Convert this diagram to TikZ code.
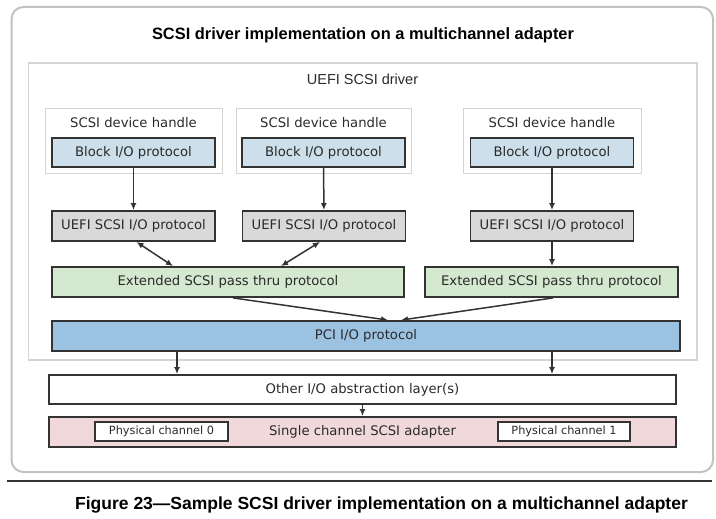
\documentclass[tikz,border=0pt]{standalone}
\usepackage{fontspec}
\setmainfont{DejaVu Sans}
\newfontfamily\arialfont{Liberation Sans}
\usetikzlibrary{positioning,arrows.meta}

\definecolor{blockblue}{HTML}{CCDFEA}
\definecolor{scsigray}{HTML}{D9D9D9}
\definecolor{passgreen}{HTML}{D5E8D0}
\definecolor{pciblue}{HTML}{9CC2E2}
\definecolor{adapterpink}{HTML}{F1D9DB}
\definecolor{boxline}{HTML}{333333}
\definecolor{boxtext}{HTML}{2A2A2A}
\definecolor{frameline}{HTML}{C2C2C2}
\definecolor{driverline}{HTML}{D4D4D4}

\begin{document}
\begin{tikzpicture}[
	x=1pt, y=-1pt,
	mybox/.style = {
		draw=boxline, rectangle, align=center, line width=1.8pt,
		text=boxtext, font=\fontsize{13.2}{15}\selectfont,
		inner sep=0pt, minimum width=163, minimum height=30},
	myhandle/.style = {
		draw=driverline, rectangle, line width=0.9pt,
		minimum height=65},
	mytitle/.style = {
		text=boxtext, font=\fontsize{13.2}{15}\selectfont, inner sep=0pt},
	mychannel/.style = {
		draw=boxline, rectangle, line width=1.3pt, fill=white,
		text=boxtext, font=\fontsize{11.3}{13}\selectfont,
		inner sep=0pt, minimum width=133, minimum height=19},
	arrow/.style = {line width=1.5pt, draw=boxline,
		-{Latex[length=7pt,width=6pt]}},
	twoway/.style = {line width=1.5pt, draw=boxline,
		{Latex[length=7pt,width=6pt]}-{Latex[length=7pt,width=6pt]}}
]
\useasboundingbox (0,0) rectangle (716,519);

% frame and driver box
\draw[frameline, line width=2pt, rounded corners=12] (11.5,7) rectangle (713,472);
\node (drv) [draw=driverline, line width=1.2pt, minimum width=668.5,
             minimum height=297] at (362.75,211.5) {};

\node (title) [font=\arialfont\bfseries\fontsize{16.4}{19}\selectfont]
              at (363,35) {SCSI driver implementation on a multichannel adapter};
\node (drvname) [text=boxtext, font=\arialfont\fontsize{14.5}{17}\selectfont]
              at (362.5,79) {UEFI SCSI driver};

% device handles
\node (h1) [myhandle, minimum width=177] at (133.5,140.5) {};
\node (h2) [myhandle, minimum width=175] at (323.5,140.5) {};
\node (h3) [myhandle, minimum width=178] at (552,140.5)   {};
\node (t1) [mytitle, below=10pt of h1.north] {SCSI device handle};
\node (t2) [mytitle, below=10pt of h2.north] {SCSI device handle};
\node (t3) [mytitle, below=10pt of h3.north] {SCSI device handle};

\node (b1) [mybox, fill=blockblue, minimum height=29] at (133.5,152.5) {Block I/O protocol};
\node (b2) [mybox, fill=blockblue, minimum height=29] at (323.5,152.5) {Block I/O protocol};
\node (b3) [mybox, fill=blockblue, minimum height=29] at (552,152.5)   {Block I/O protocol};

\node (u1) [mybox, fill=scsigray] at (133.5,226) {UEFI SCSI I/O protocol};
\node (u2) [mybox, fill=scsigray] at (324,226)   {UEFI SCSI I/O protocol};
\node (u3) [mybox, fill=scsigray] at (552,226)   {UEFI SCSI I/O protocol};

\node (e1) [mybox, fill=passgreen, minimum width=352] at (228,282)
           {Extended SCSI pass thru protocol};
\node (e2) [mybox, fill=passgreen, minimum width=253] at (551.5,282)
           {Extended SCSI pass thru protocol};

\node (pci) [mybox, fill=pciblue, minimum width=628] at (366,336) {PCI I/O protocol};

\node (oth) [mybox, fill=white, minimum width=627, minimum height=29]
            at (362.5,389.5) {Other I/O abstraction layer(s)};
\node (sgl) [mybox, fill=adapterpink, minimum width=627] at (362.5,432)
            {Single channel SCSI adapter};
\node (p0) [mychannel] at (161.5,431.5) {Physical channel 0};
\node (p1) [mychannel, minimum width=132] at (564,431.5) {Physical channel 1};

% connectors
\draw[arrow] (b1) -- (u1);
\draw[arrow] (b2) -- (u2);
\draw[arrow] (b3) -- (u3);
\draw[twoway] ([xshift=3pt] u1.south) -- ([xshift=-55pt] e1.north);
\draw[twoway] ([xshift=-4pt] u2.south) -- ([xshift=53pt] e1.north);
\draw[arrow] (u3.south) coordinate (c) -- (c |- e2.north);
\draw[arrow] ([xshift=5pt] e1.south) -- ([xshift=22pt] pci.north);
\draw[arrow] ([xshift=1.5pt] e2.south) -- ([xshift=35pt] pci.north);
\draw[arrow] ([xshift=-189pt] pci.south) coordinate (a)
                                        -- (a |- oth.north);
\draw[arrow] ([xshift=186pt] pci.south) coordinate (b)
                                        -- (b |- oth.north);
\draw[arrow] (oth) -- (sgl);

% caption
\draw[boxline, line width=2pt] (7,481) coordinate (l) -- (712,481) coordinate (r);
\node (caption) [font=\arialfont\bfseries\fontsize{17.5}{20}\selectfont]
      at (381.5,505) {Figure 23—Sample SCSI driver implementation on a multichannel adapter};
\end{tikzpicture}
\end{document}
